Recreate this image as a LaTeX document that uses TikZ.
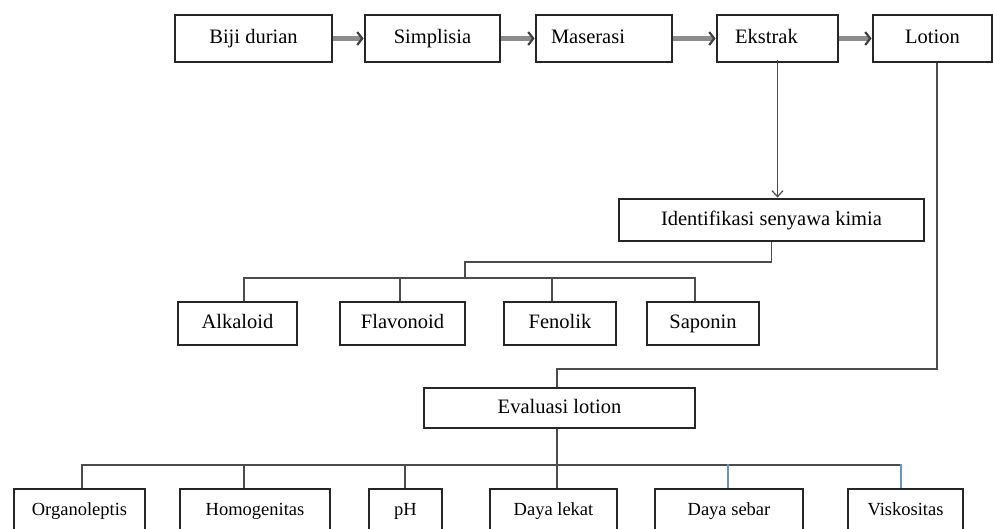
\documentclass[tikz,border=0pt]{standalone}
\usepackage{fontspec}
\setmainfont{Liberation Serif}
\usetikzlibrary{arrows.meta}
\definecolor{linkblue}{RGB}{105,145,205}
\begin{document}
\begin{tikzpicture}[x=1pt,y=-1pt,
  boxfont/.style={font=\fontsize{20.5}{22}\selectfont,text height=1.05em,text depth=0em},
  box/.style={draw=black!85,line width=2.8pt,fill=white,inner sep=0pt,boxfont},
  sbox/.style={box,font=\fontsize{18.5}{20}\selectfont},
  flow/.style={draw=black!45,line width=4.4pt,
    -{Straight Barb[length=5pt,width=13pt,line width=2.2pt,color=black!75]}},
  conn/.style={draw=black!70,line width=1.6pt},
  bconn/.style={draw=linkblue,line width=1.2pt},
  down/.style={conn,-{Straight Barb[length=6pt,width=11pt,line width=1.2pt]}}
]
\useasboundingbox (0,0) rectangle (993,529);

% top row
\node[box,minimum width=157pt,minimum height=47pt] (bij) at (253.5,38.5) {Biji durian};
\node[box,minimum width=135pt,minimum height=47pt] (sim) at (432.5,38.5) {Simplisia};
\node[box,minimum width=136pt,minimum height=47pt,
  label={[name=masT,xshift=-16pt,boxfont]center:Maserasi}] (mas) at (604,38.5) {};
\node[box,minimum width=121pt,minimum height=47pt,
  label={[name=eksT,xshift=-11pt,boxfont]center:Ekstrak}] (eks) at (777.5,38.5) {};
\node[box,minimum width=119pt,minimum height=47pt] (lot) at (932.5,38.5) {Lotion};

\draw[flow] (bij.east) -- (sim.west);
\draw[flow] (sim.east) -- (mas.west);
\draw[flow] (mas.east) -- (eks.west);
\draw[flow] (eks.east) -- (lot.west);

% identification branch
\node[box,minimum width=305pt,minimum height=42pt] (ide) at (771.5,220) {Identifikasi senyawa kimia};
\draw[down] ([yshift=3pt]eks.south) -- (eks.south |- ide.north);

\node[box,minimum width=119pt,minimum height=43pt] (alk) at (237.5,323.5) {Alkaloid};
\node[box,minimum width=125pt,minimum height=43pt] (fla) at (402.5,323.5) {Flavonoid};
\node[box,minimum width=112pt,minimum height=43pt] (fen) at (560,323.5) {Fenolik};
\node[box,minimum width=112pt,minimum height=43pt] (sap) at (703,323.5) {Saponin};

\coordinate (ib) at (465,262);
\coordinate (ibus) at (465,278);
\draw[conn] (ide.south) |- (ib) -- (ibus);
\draw[conn] ([xshift=6.5pt]alk.north) |- ([xshift=-8pt]sap.north |- ibus) -- ([xshift=-8pt]sap.north);
\draw[conn] ([xshift=-2.5pt]fla.north) -- ++(0,-24);
\draw[conn] ([xshift=-8pt]fen.north) -- ++(0,-24);

% evaluation branch
\node[box,minimum width=271pt,minimum height=40pt] (eva) at (559.5,408) {Evaluasi lotion};
\coordinate (lk) at (557,369);
\draw[conn] ([xshift=4.5pt]lot.south) |- (lk) -- (lk |- eva.north);

\node[sbox,minimum width=131pt,minimum height=42pt] (org) at (79.5,510) {Organoleptis};
\node[sbox,minimum width=150pt,minimum height=42pt] (hom) at (255,510) {Homogenitas};
\node[sbox,minimum width=73pt,minimum height=42pt] (ph) at (405.5,510) {pH};
\node[sbox,minimum width=127pt,minimum height=42pt] (dl) at (553.5,510) {Daya lekat};
\node[sbox,minimum width=148pt,minimum height=42pt] (ds) at (729,510) {Daya sebar};
\node[sbox,minimum width=115pt,minimum height=42pt] (vis) at (905.5,510) {Viskositas};

\coordinate (ebus) at (557,465);
\draw[conn] (lk |- eva.south) -- (lk |- dl.north);
\draw[conn] ([xshift=2.5pt]org.north) |- ([xshift=-4.5pt]vis.north |- ebus);
\draw[conn] ([xshift=-11pt]hom.north) -- ++(0,-24);
\draw[conn] ([xshift=-0.5pt]ph.north) -- ++(0,-24);
\draw[bconn] ([xshift=-1pt]ds.north) -- ++(0,-24);
\draw[bconn] ([xshift=-4.5pt]vis.north) -- ++(0,-24);
\end{tikzpicture}
\end{document}
